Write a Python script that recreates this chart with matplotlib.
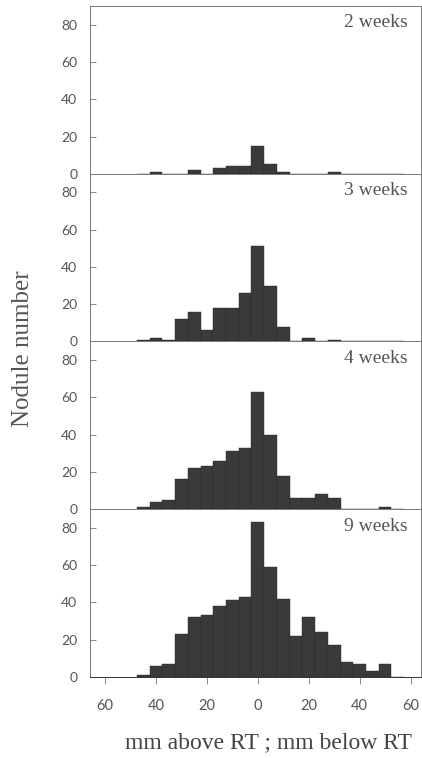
import numpy as np
import matplotlib.pyplot as plt

# bin centres (mm): negative = above RT, positive = below RT
centros = [-45, -40, -35, -30, -25, -20, -15, -10, -5, 0, 5, 10, 15, 20, 25, 30, 35, 40, 45, 50, 55]

semanas = ['2 weeks', '3 weeks', '4 weeks', '9 weeks']

n_2sem = [0, 1, 0, 0, 2, 0, 3, 4, 4, 15, 5, 1, 0, 0, 0, 1, 0, 0, 0, 0, 0]
n_3sem = [1, 2, 1, 12, 16, 6, 18, 18, 26, 51, 30, 8, 0, 2, 0, 1, 0, 0, 0, 0, 0]
n_4sem = [1, 4, 5, 16, 22, 23, 26, 31, 33, 63, 40, 18, 6, 6, 8, 6, 0, 0, 0, 1, 0]
n_9sem = [1, 6, 7, 23, 32, 33, 38, 41, 43, 83, 59, 42, 22, 32, 24, 17, 8, 7, 3, 7, 0]

contagens = [n_2sem, n_3sem, n_4sem, n_9sem]

xticks = [-60, -40, -20, 0, 20, 40, 60]
xtick_labels = ['60', '40', '20', '0', '20', '40', '60']
yticks = [0, 20, 40, 60, 80]

cor_barra = '#3a3a3a'
cor_texto = '#555555'

fig = plt.figure(figsize=(4.22, 7.58), dpi=100)
gs = fig.add_gridspec(4, 1, left=0.213, right=0.997, top=0.992, bottom=0.107, hspace=0)

for i in range(4):
    ax = fig.add_subplot(gs[i])
    ax.bar(centros, contagens[i], width=5, color=cor_barra, edgecolor='#2a2a2a', linewidth=0.3)
    ax.set_xlim(-66, 64)
    ax.set_ylim(0, 90)
    ax.set_yticks(yticks)
    ax.tick_params(axis='y', direction='in', length=4, width=0.6, colors='#777777',
                   labelcolor=cor_texto, labelsize=10, pad=9)
    for s in ax.spines.values():
        s.set_color('#777777')
        s.set_linewidth(0.7)
    ax.spines['bottom'].set_color('#333333')
    ax.text(0.96, 0.95, semanas[i], transform=ax.transAxes, ha='right', va='top',
            family='Liberation Serif', fontsize=14, color=cor_texto)
    if i < 3:
        ax.set_xticks([])
    else:
        ax.set_xticks(xticks)
        ax.set_xticklabels(xtick_labels)
        ax.tick_params(axis='x', direction='out', length=5, width=0.6, colors='#777777',
                       labelcolor=cor_texto, labelsize=10.5, pad=11)
    for lab in ax.get_yticklabels() + ax.get_xticklabels():
        lab.set_family('Lato')

fig.text(0.055, 0.54, 'Nodule number', rotation=90, ha='center', va='center',
         family='Liberation Serif', fontsize=18, color=cor_texto)
fig.text(0.637, 0.02, 'mm above RT ; mm below RT', ha='center', va='center',
         family='Liberation Serif', fontsize=17, color='#444444')

fig.savefig('out.png', dpi=100)
